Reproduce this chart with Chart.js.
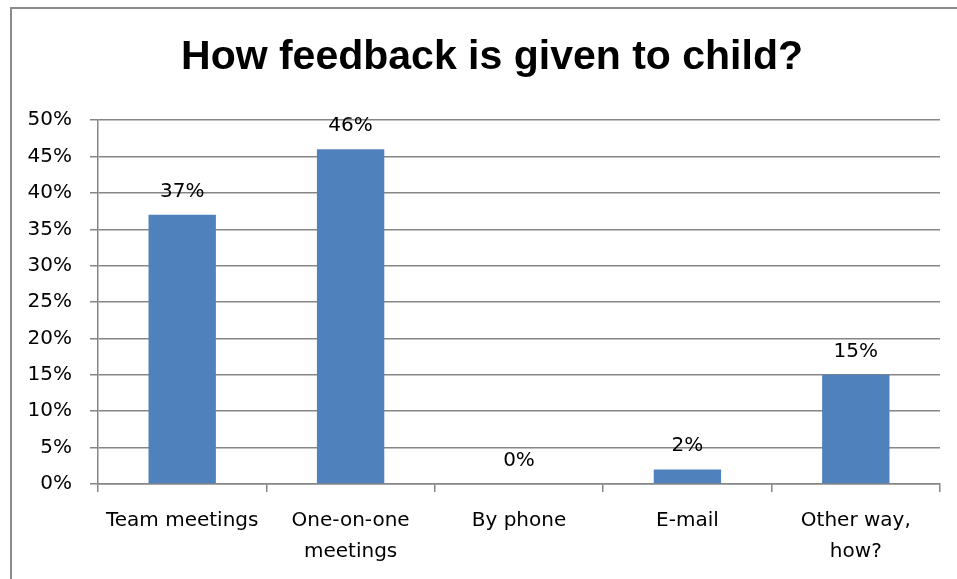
<!DOCTYPE html>
<html lang="en">
<head>
    <meta charset="UTF-8">
    <title>How feedback is given to child?</title>
    <script src="https://cdn.jsdelivr.net/npm/chart.js"></script>
    <style>
        html, body { margin: 0; padding: 0; background: #fff; overflow: hidden; }
        #frame {
            position: absolute; left: 10px; top: 7px; width: 1000px; height: 600px;
            border-left: 2px solid #8c8c8c; border-top: 2px solid #8c8c8c;
        }
        #myChart { position: absolute; left: 0; top: 0; }
    </style>
</head>
<body>
    <div id="frame"></div>
    <canvas id="myChart" width="957" height="579"></canvas>
    <script>
        // data
        var categories = ['Team meetings', ['One-on-one', 'meetings'], 'By phone', 'E-mail', ['Other way,', 'how?']];
        var shares = [0.37, 0.46, 0, 0.02, 0.15];
        var yTicks = [0, 0.05, 0.10, 0.15, 0.20, 0.25, 0.30, 0.35, 0.40, 0.45, 0.50];

        var gridColor = '#868686';
        var fontFamily = "'DejaVu Sans', sans-serif";

        function pct(v) {
            return Math.round(v * 100) + '%';
        }

        // value labels above the bars
        var barLabels = {
            id: 'barLabels',
            afterLayout: function(chart) {
                // let the y tick labels use the space left of the axis box
                chart.scales.y.left = 0;
            },
            afterDatasetsDraw: function(chart) {
                var ctx = chart.ctx;
                var meta = chart.getDatasetMeta(0);
                ctx.save();
                ctx.font = '20px ' + fontFamily;
                ctx.fillStyle = '#000';
                ctx.textAlign = 'center';
                ctx.textBaseline = 'alphabetic';
                meta.data.forEach(function(bar, i) {
                    ctx.fillText(pct(shares[i]), bar.x, bar.y - 18);
                });
                ctx.restore();
            }
        };

        new Chart(document.querySelector('#myChart'), {
            type: 'bar',
            data: {
                labels: categories,
                datasets: [{
                    data: shares,
                    backgroundColor: '#4F81BD',
                    borderWidth: 0,
                    categoryPercentage: 1,
                    barPercentage: 0.4
                }]
            },
            options: {
                responsive: false,
                animation: false,
                layout: { padding: { left: 44, right: 17, top: 0, bottom: 0 } },
                plugins: {
                    legend: { display: false },
                    tooltip: { enabled: false },
                    title: {
                        display: true,
                        text: 'How feedback is given to child?',
                        color: '#000',
                        font: { family: "'Liberation Sans', Arial, sans-serif", size: 41, weight: 'bold', lineHeight: 1.2 },
                        padding: { top: 33, bottom: 38 }
                    }
                },
                scales: {
                    x: {
                        afterFit: function(scale) { scale.height = 95; },
                        grid: {
                            offset: true,
                            drawOnChartArea: false,
                            drawTicks: true,
                            tickLength: 8,
                            color: gridColor,
                            lineWidth: 1.5
                        },
                        border: { color: gridColor, width: 1.5 },
                        ticks: {
                            color: '#000',
                            padding: 13,
                            maxRotation: 0,
                            autoSkip: false,
                            font: { family: fontFamily, size: 20, lineHeight: 1.55 }
                        }
                    },
                    y: {
                        min: 0,
                        max: 0.5,
                        afterFit: function(scale) { scale.width = 54; },
                        afterBuildTicks: function(scale) {
                            scale.ticks = yTicks.map(function(v) { return { value: v }; });
                        },
                        grid: {
                            color: gridColor,
                            lineWidth: 1.5,
                            drawTicks: true,
                            tickLength: 8
                        },
                        border: { color: gridColor, width: 1.5 },
                        ticks: {
                            color: '#000',
                            padding: 18,
                            font: { family: fontFamily, size: 20 },
                            callback: function(v) { return pct(v); }
                        }
                    }
                }
            },
            plugins: [barLabels]
        });
    </script>
</body>
</html>
